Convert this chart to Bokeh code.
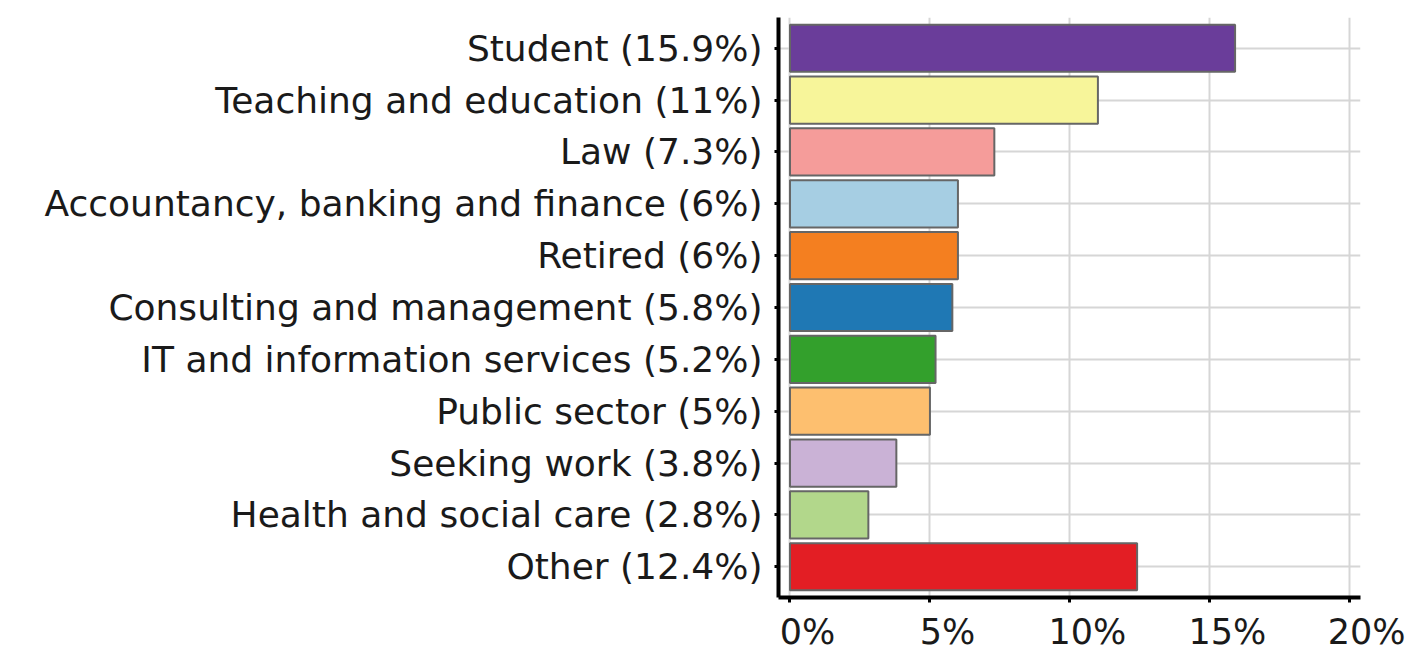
from bokeh.plotting import figure
from bokeh.models import FactorRange, FixedTicker, PrintfTickFormatter, Range1d, ColumnDataSource
from bokeh.embed import file_html
from bokeh.resources import INLINE

categories = ["Student", "Teaching and education", "Law",
              "Accountancy, banking and finance", "Retired",
              "Consulting and management", "IT and information services",
              "Public sector", "Seeking work", "Health and social care", "Other"]
values = [15.9, 11, 7.3, 6, 6, 5.8, 5.2, 5, 3.8, 2.8, 12.4]
colors = ["#6a3d9a", "#f7f59a", "#f59c9a", "#a6cee3", "#f47f20", "#1f78b4",
          "#33a02c", "#fdbf6f", "#cab2d6", "#b2d78b", "#e31e24"]
x_ticks = [0, 5, 10, 15, 20]

labels = [f"{c} ({v:g}%)" for c, v in zip(categories, values)]
src = ColumnDataSource(dict(label=labels, value=values, color=colors))

FONT = "DejaVu Sans"

p = figure(width=1405, height=654,
           y_range=FactorRange(factors=labels[::-1], range_padding=0.093,
                               range_padding_units="absolute"),
           x_range=Range1d(-0.41, 20.38),
           output_backend="svg", toolbar_location=None,
           min_border_left=778, min_border_right=45,
           min_border_top=17, min_border_bottom=55)

p.hbar(y="label", right="value", left=0, height=0.91, fill_color="color",
       line_color="#666666", line_width=2, source=src)

p.outline_line_color = None
for g in (p.xgrid, p.ygrid):
    g.grid_line_color = "#d6d6d6"
    g.grid_line_width = 2

p.xaxis.ticker = FixedTicker(ticks=x_ticks)
p.xaxis.formatter = PrintfTickFormatter(format="\u2003%d%%")

for ax in (p.xaxis, p.yaxis):
    ax.axis_line_width = 4
    ax.axis_line_color = "black"
    ax.major_tick_line_width = 3
    ax.major_tick_line_color = "black"
    ax.major_tick_in = 0
    ax.minor_tick_line_color = None
    ax.major_label_text_font = FONT
    ax.major_label_text_color = "#1a1a1a"

p.yaxis.major_tick_out = 4
p.yaxis.major_label_text_font_size = "36px"
p.yaxis.major_label_standoff = 12
p.xaxis.major_tick_out = 5
p.xaxis.major_label_text_font_size = "35px"
p.xaxis.major_label_standoff = 9

open("out.html", "w").write(file_html(p, INLINE))
